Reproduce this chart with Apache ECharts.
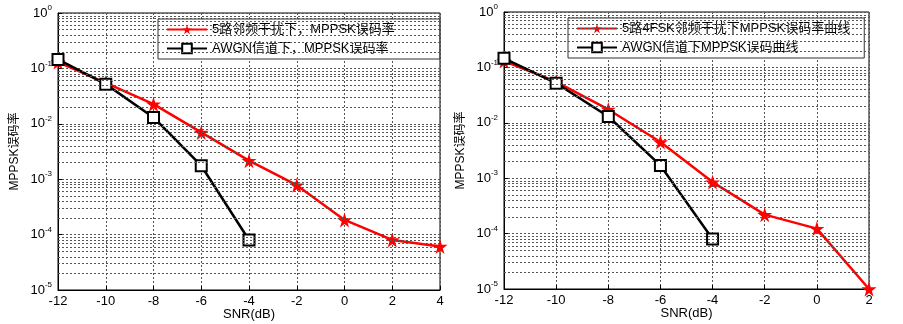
<!DOCTYPE html>
<html>
<head>
<meta charset="utf-8">
<script src="https://cdn.jsdelivr.net/npm/echarts@6/dist/echarts.min.js"></script>
<style>
html,body{margin:0;padding:0;background:#fff;}
#chart{width:903px;height:324px;}
</style>
</head>
<body>
<div id="chart"></div>
<script>
// left panel
var snrLeft = [-12, -10, -8, -6, -4, -2, 0, 2, 4]
var berInterfLeft = [0.13, 0.055, 0.0226, 0.007, 0.00216, 0.00078, 0.000184, 0.00008, 0.000061]
var snrAwgn = [-12, -10, -8, -6, -4]
var berAwgnLeft = [0.145, 0.052, 0.013, 0.00175, 0.00008]
// right panel
var snrRight = [-12, -10, -8, -6, -4, -2, 0, 2]
var berInterfRight = [0.13, 0.055, 0.0174, 0.0045, 0.00085, 0.00022, 0.000123, 0.00001]
var berAwgnRight = [0.146, 0.052, 0.013, 0.0017, 0.00008]

var nameInterfLeft = '5路邻频干扰下，MPPSK误码率'
var nameAwgnLeft = 'AWGN信道下，MPPSK误码率'
var nameInterfRight = '5路4FSK邻频干扰下MPPSK误码率曲线'
var nameAwgnRight = 'AWGN信道下MPPSK误码曲线'

var FONT = 'Liberation Sans, Arial, Noto Sans CJK SC, sans-serif'
var STAR = 'path://M50 0 L61 35 L98 35 L68 57 L79 91 L50 70 L21 91 L32 57 L2 35 L39 35 Z'
var GRID_STYLE = {color: '#555', type: [2, 2], width: 1}

var pairs = function (xs, ys) {
    return ys.map(function (y, i) { return [xs[i], y] })
}

// dotted minor grid at 2..9 x 10^k, placed on a hidden linear axis in log10 units
var minorLines = []
for (var k = -5; k < 0; k++) {
    for (var m = 2; m <= 9; m++) {
        minorLines.push({yAxis: k + Math.log10(m)})
    }
}

var makeX = function (idx, max) {
    return {
        type: 'value', gridIndex: idx, min: -12, max: max, interval: 2,
        name: 'SNR(dB)', nameLocation: 'middle', nameGap: 18, nameMoveOverlap: false,
        nameTextStyle: {color: '#000', fontSize: 13, fontFamily: FONT},
        axisLine: {onZero: false, lineStyle: {color: '#000', width: 1}},
        axisTick: {inside: true, length: 4, lineStyle: {color: '#000'}},
        axisLabel: {color: '#000', fontSize: 13, fontFamily: FONT, margin: 5},
        splitLine: {show: true, lineStyle: GRID_STYLE}
    }
}

var makeY = function (idx) {
    return {
        type: 'log', logBase: 10, gridIndex: idx, min: 1e-5, max: 1,
        name: 'MPPSK误码率', nameLocation: 'middle', nameGap: 37, nameMoveOverlap: false,
        nameTextStyle: {color: '#000', fontSize: 12, fontFamily: FONT},
        axisLine: {onZero: false, lineStyle: {color: '#000', width: 1}},
        axisTick: {inside: true, length: 4, lineStyle: {color: '#000'}},
        axisLabel: {
            margin: 6,
            formatter: function (v) {
                var e = Math.round(Math.log10(v))
                return '{b|10}{s|' + e + '}'
            },
            rich: {
                b: {color: '#000', fontSize: 13, fontFamily: FONT},
                s: {color: '#000', fontSize: 8, fontFamily: FONT, padding: [0, 0, 10, 0]}
            }
        },
        splitLine: {show: true, lineStyle: GRID_STYLE}
    }
}

var hiddenY = function (idx) {
    return {
        type: 'value', gridIndex: idx, min: -5, max: 0, show: false,
        axisLine: {show: false}, axisTick: {show: false}, axisLabel: {show: false},
        splitLine: {show: false}
    }
}

var interfSeries = function (name, idx, data) {
    return {
        name: name, type: 'line', xAxisIndex: idx, yAxisIndex: idx, data: data,
        symbol: STAR, symbolSize: 15, z: 3,
        lineStyle: {color: '#ff0000', width: 2.5},
        itemStyle: {color: '#ff0000'}
    }
}
var awgnSeries = function (name, idx, data) {
    return {
        name: name, type: 'line', xAxisIndex: idx, yAxisIndex: idx, data: data,
        symbol: 'emptyRect', symbolSize: 11, z: 4,
        lineStyle: {color: '#000', width: 2.5},
        itemStyle: {color: '#000', borderWidth: 2.2, borderColor: '#000'}
    }
}
var gridLines = function (idx) {
    return {
        type: 'line', xAxisIndex: idx, yAxisIndex: idx + 2, data: [], silent: true, z: 1,
        markLine: {
            silent: true, symbol: 'none', label: {show: false},
            lineStyle: GRID_STYLE, animation: false,
            data: minorLines
        }
    }
}

var legendBase = {
    orient: 'vertical', itemWidth: 40, itemHeight: 12, itemGap: 6,
    backgroundColor: '#fff', borderColor: '#333', borderWidth: 1,
    textStyle: {color: '#000', fontSize: 13, fontFamily: FONT}
}

var chart = echarts.init(document.getElementById('chart'))
chart.setOption({
    animation: false,
    backgroundColor: '#fff',
    grid: [
        {left: 58, right: 463, top: 13, bottom: 34, outerBoundsMode: 'none', show: true, borderColor: '#000', borderWidth: 1, backgroundColor: 'transparent'},
        {left: 504, right: 34, top: 12, bottom: 35, outerBoundsMode: 'none', show: true, borderColor: '#000', borderWidth: 1, backgroundColor: 'transparent'}
    ],
    legend: [
        Object.assign({}, legendBase, {left: 158, top: 19, padding: [4, 45, 4, 8], data: [nameInterfLeft, nameAwgnLeft]}),
        Object.assign({}, legendBase, {left: 568, top: 18, padding: [4, 14, 4, 8], data: [nameInterfRight, nameAwgnRight]})
    ],
    xAxis: [makeX(0, 4), makeX(1, 2)],
    yAxis: [makeY(0), makeY(1), hiddenY(0), hiddenY(1)],
    series: [
        gridLines(0),
        gridLines(1),
        interfSeries(nameInterfLeft, 0, pairs(snrLeft, berInterfLeft)),
        awgnSeries(nameAwgnLeft, 0, pairs(snrAwgn, berAwgnLeft)),
        interfSeries(nameInterfRight, 1, pairs(snrRight, berInterfRight)),
        awgnSeries(nameAwgnRight, 1, pairs(snrAwgn, berAwgnRight))
    ]
})
</script>
</body>
</html>
